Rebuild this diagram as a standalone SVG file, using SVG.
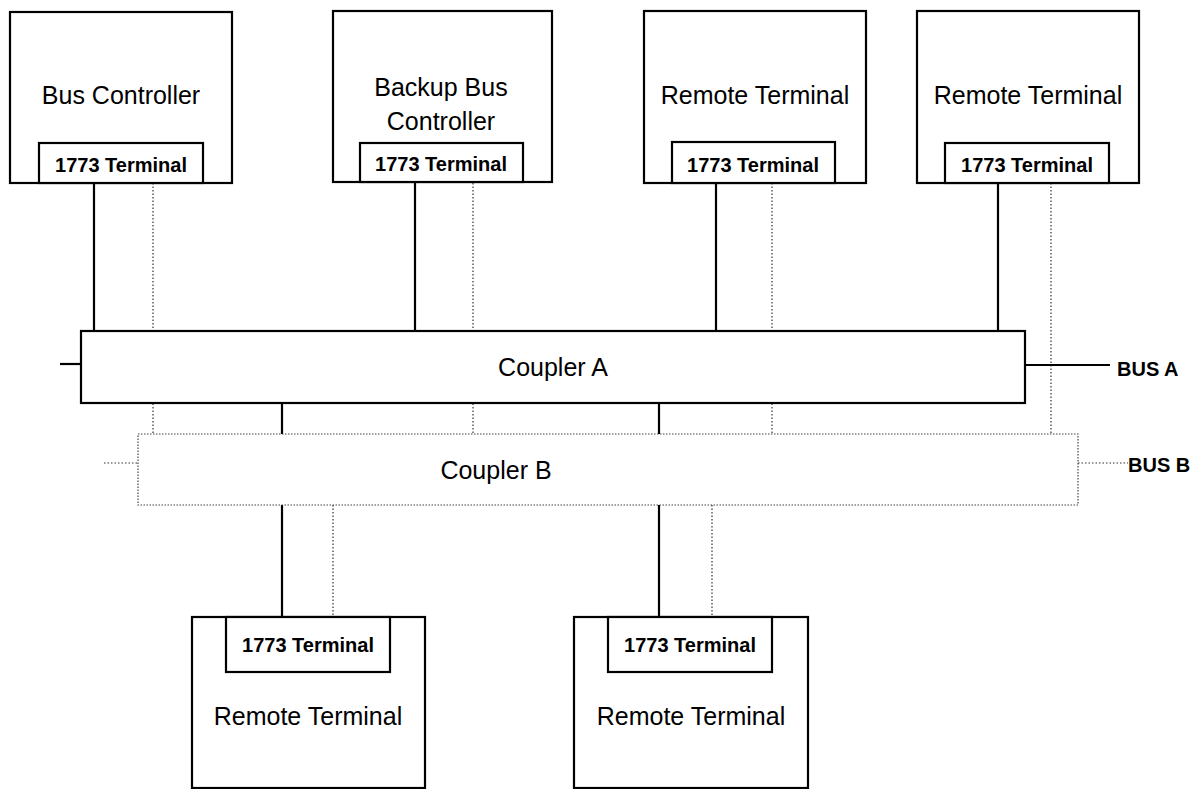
<svg xmlns="http://www.w3.org/2000/svg" width="1190" height="789" viewBox="0 0 1190 789">
<style>
.box{fill:#fff;stroke:#000;stroke-width:2.2}
.dbox{fill:#fff;stroke:#444;stroke-width:1.2;stroke-dasharray:1.5 1.5}
.s{stroke:#000;stroke-width:2.2;fill:none}
.d{stroke:#333;stroke-width:1.2;stroke-dasharray:1.5 2;fill:none}
.lbl{font-family:"Liberation Sans",Arial,sans-serif;font-size:25px;text-anchor:middle;fill:#000}
.term{font-family:"Liberation Sans",Arial,sans-serif;font-size:20px;font-weight:bold;text-anchor:middle;fill:#000}
.bus{font-family:"Liberation Sans",Arial,sans-serif;font-size:20px;font-weight:bold;fill:#000}
</style>
<rect width="1190" height="789" fill="#fff"/>
<g id="connectors">
<line class="d" x1="153" y1="183" x2="153" y2="434"/>
<line class="d" x1="473" y1="183" x2="473" y2="434"/>
<line class="d" x1="772" y1="183" x2="772" y2="434"/>
<line class="d" x1="1051" y1="183" x2="1051" y2="434"/>
<line class="s" x1="94" y1="183" x2="94" y2="331"/>
<line class="s" x1="415" y1="183" x2="415" y2="331"/>
<line class="s" x1="716" y1="183" x2="716" y2="331"/>
<line class="s" x1="998" y1="183" x2="998" y2="331"/>
<line class="s" x1="282" y1="403" x2="282" y2="617"/>
<line class="s" x1="659" y1="403" x2="659" y2="617"/>
<line class="d" x1="333" y1="505" x2="333" y2="617"/>
<line class="d" x1="712" y1="505" x2="712" y2="617"/>
<line class="s" x1="60" y1="364" x2="81" y2="364"/>
<line class="s" x1="1025" y1="365" x2="1110" y2="365"/>
<line class="d" x1="104" y1="463" x2="138" y2="463"/>
<line class="d" x1="1078" y1="463" x2="1128" y2="463"/>
</g>
<g id="couplerB">
<rect class="dbox" x="138" y="434" width="940" height="71"/>
<text class="lbl" x="496" y="479">Coupler B</text>
</g>
<g id="couplerA">
<rect class="box" x="81" y="331" width="944" height="72"/>
<text class="lbl" x="553" y="376">Coupler A</text>
</g>
<g id="busController">
<rect class="box" x="10" y="12" width="222" height="171"/>
<text class="lbl" x="121" y="104">Bus Controller</text>
<rect class="box" x="39" y="143" width="164" height="40"/>
<text class="term" x="121" y="172">1773 Terminal</text>
</g>
<g id="backupBusController">
<rect class="box" x="333" y="11" width="219" height="171"/>
<text class="lbl" x="441" y="96">Backup Bus</text>
<text class="lbl" x="441" y="130">Controller</text>
<rect class="box" x="360" y="143" width="163" height="39"/>
<text class="term" x="441" y="171">1773 Terminal</text>
</g>
<g id="remoteTerminal1">
<rect class="box" x="644" y="11" width="222" height="172"/>
<text class="lbl" x="755" y="104">Remote Terminal</text>
<rect class="box" x="672" y="142" width="163" height="41"/>
<text class="term" x="753" y="172">1773 Terminal</text>
</g>
<g id="remoteTerminal2">
<rect class="box" x="917" y="11" width="222" height="172"/>
<text class="lbl" x="1028" y="104">Remote Terminal</text>
<rect class="box" x="945" y="143" width="164" height="40"/>
<text class="term" x="1027" y="172">1773 Terminal</text>
</g>
<g id="remoteTerminal3">
<rect class="box" x="192" y="617" width="233" height="171"/>
<rect class="box" x="226" y="617" width="164" height="55"/>
<text class="term" x="308" y="652">1773 Terminal</text>
<text class="lbl" x="308" y="725">Remote Terminal</text>
</g>
<g id="remoteTerminal4">
<rect class="box" x="574" y="617" width="234" height="171"/>
<rect class="box" x="608" y="617" width="164" height="55"/>
<text class="term" x="690" y="652">1773 Terminal</text>
<text class="lbl" x="691" y="725">Remote Terminal</text>
</g>
<g id="busLabels">
<text class="bus" x="1117" y="376">BUS A</text>
<text class="bus" x="1128" y="472">BUS B</text>
</g>
</svg>
